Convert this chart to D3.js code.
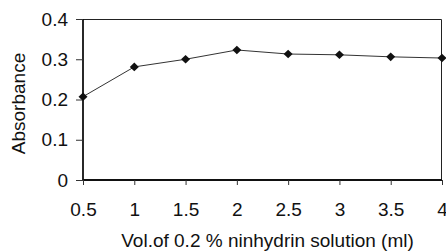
<!DOCTYPE html>
<html>
<head>
<meta charset="utf-8">
<script src="https://cdn.jsdelivr.net/npm/d3@7"></script>
<style>
  body { margin: 0; background: #fff; }
  svg text { font-family: "Liberation Sans", Arial, sans-serif; fill: #111; }
</style>
</head>
<body>
<div id="chart-area"></div>
<script>
const volumes = [0.5, 1, 1.5, 2, 2.5, 3, 3.5, 4];
const absorbance = [0.207, 0.281, 0.300, 0.323, 0.313, 0.311, 0.306, 0.303];
const xTicks = [0.5, 1, 1.5, 2, 2.5, 3, 3.5, 4];
const yTicks = [0, 0.1, 0.2, 0.3, 0.4];

const chartSize = {width: 446, height: 251};
const margin = {left: 83, right: 4, top: 19, bottom: 71};
const width = chartSize.width - margin.left - margin.right;
const height = chartSize.height - margin.top - margin.bottom;
const fontSize = 19;

const svg = d3.select("#chart-area")
    .append("svg")
    .attr("width", chartSize.width)
    .attr("height", chartSize.height);

const g = svg.append("g").attr("transform", `translate(${margin.left}, ${margin.top})`);

const x = d3.scaleLinear().domain([0.5, 4]).range([0, width]);
const y = d3.scaleLinear().domain([0, 0.4]).range([height, 0]);

// frame top + right
g.append("path")
    .attr("d", `M0,0.5H${width - 0.5}V${height}`)
    .attr("fill", "none")
    .attr("stroke", "#222")
    .attr("stroke-width", 1);

const yAxis = d3.axisLeft(y).tickValues(yTicks).tickSize(7).tickPadding(8)
    .tickFormat(d => d === 0 ? "0" : d3.format(".1f")(d));
const xAxis = d3.axisBottom(x).tickValues(xTicks).tickSize(5).tickPadding(18)
    .tickFormat(d => String(d));

const ya = g.append("g").call(yAxis);
const xa = g.append("g").attr("transform", `translate(0, ${height})`).call(xAxis);

[ya, xa].forEach(a => {
    a.select(".domain").attr("stroke", "#111").attr("stroke-width", 1.8);
    a.selectAll(".tick line").attr("stroke", "#333");
    a.selectAll("text").attr("font-size", fontSize).attr("font-family", "Liberation Sans, Arial, sans-serif").attr("fill", "#111");
});
xa.select(".domain").attr("d", `M0,0H${width}`);
ya.select(".domain").attr("d", `M0,${height}V0`);

const pts = volumes.map((v, i) => [v, absorbance[i]]);

g.append("path")
    .datum(pts)
    .attr("fill", "none")
    .attr("stroke", "#333")
    .attr("stroke-width", 1)
    .attr("d", d3.line().x(d => x(d[0])).y(d => y(d[1])));

g.selectAll(".pt").data(pts).enter()
    .append("path")
    .attr("class", "pt")
    .attr("transform", d => `translate(${x(d[0])}, ${y(d[1])})`)
    .attr("d", "M0,-4.3L4.5,0L0,4.3L-4.5,0Z")
    .attr("fill", "#111");

svg.append("text")
    .attr("x", 267.5)
    .attr("y", 247)
    .attr("text-anchor", "middle")
    .attr("font-size", fontSize)
    .text("Vol.of 0.2 % ninhydrin solution (ml)");

svg.append("text")
    .attr("transform", "rotate(-90)")
    .attr("x", -103.5)
    .attr("y", 25)
    .attr("text-anchor", "middle")
    .attr("font-size", fontSize)
    .text("Absorbance");
</script>
</body>
</html>
